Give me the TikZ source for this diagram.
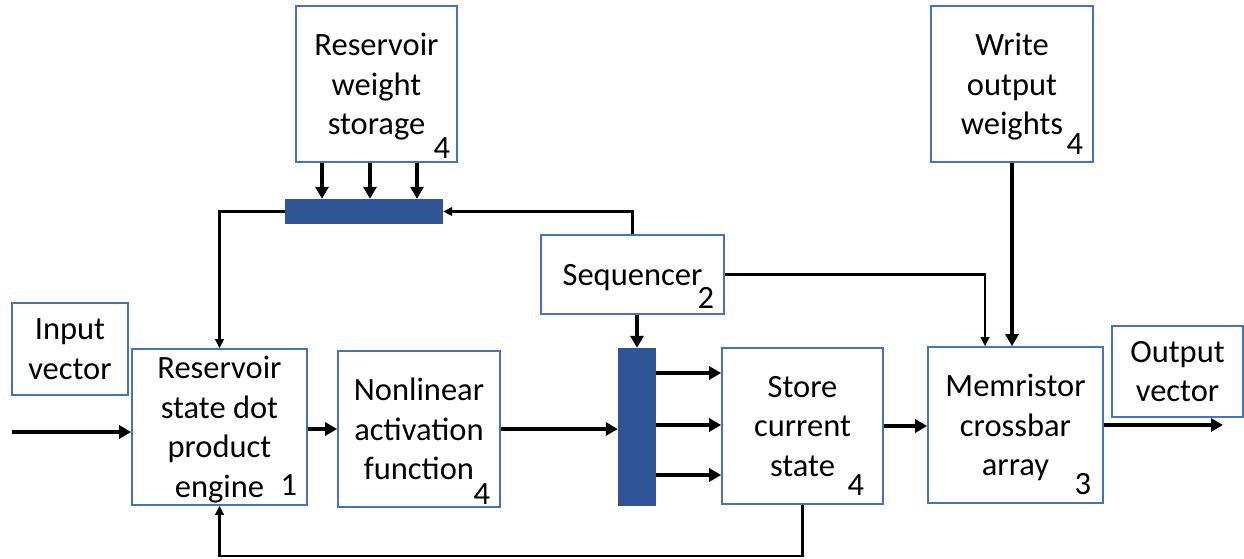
\documentclass[tikz,border=0pt]{standalone}
\usepackage{fontspec}
\setmainfont{Carlito}
\usetikzlibrary{arrows.meta}
\definecolor{boxblue}{HTML}{4472C4}
\definecolor{barblue}{HTML}{2F5597}
\begin{document}
\begin{tikzpicture}[x=1pt,y=-1pt,
  blk/.style={draw=boxblue, line width=1.7pt, fill=white, align=center, inner sep=0pt,
    font=\fontsize{32.5}{39.5}\selectfont, text depth=-1pt},
  bar/.style={fill=barblue, draw=none, inner sep=0pt},
  num/.style={font=\fontsize{32.5}{39.5}\selectfont, inner sep=0pt},
  thickarrow/.style={-{Triangle[length=12pt,width=13pt]}, line width=3.8pt},
  thinarrow/.style={-{Triangle[length=9pt,width=8.5pt]}, line width=2.2pt},
]
\useasboundingbox (0,0) rectangle (1244,558);

% boxes
\node[blk, minimum width=161pt, minimum height=156pt] (rws) at (376.5,84) {Reservoir\\weight\\storage};
\node[blk, minimum width=183pt, minimum height=79pt] (seq) at (632.5,274.5) {Sequencer};
\node[blk, minimum width=161pt, minimum height=156pt] (store) at (802.5,426) {Store\\current\\state};
\node[blk, minimum width=162pt, minimum height=156pt] (write) at (1012,84) {Write\\output\\weights};
\node[blk, minimum width=175pt, minimum height=156pt] (mem) at (1015.5,425) {Memristor\\crossbar\\array};
\node[blk, minimum width=131pt, minimum height=91pt] (out) at (1177.5,371.5) {Output\\vector};
\node[blk, minimum width=116pt, minimum height=92pt] (in) at (70,349) {Input\\vector};
\node[blk, minimum width=175pt, minimum height=156pt] (rs) at (219.5,427) {Reservoir\\state dot\\product\\engine};
\node[blk, minimum width=162pt, minimum height=156pt] (nl) at (419,429) {Nonlinear\\activation\\function};

% bars
\node[bar, minimum width=158pt, minimum height=25pt] (hbar) at (364,211.5) {};
\node[bar, minimum width=38pt, minimum height=158pt] (vbar) at (637,427) {};

% numbers
\node[num] (n1) at ([shift={(-16,-15)}]rws.south east) {4};
\node[num] (n2) at ([shift={(-19,-17)}]seq.south east) {2};
\node[num] (n3) at ([shift={(-28,-20)}]store.south east) {4};
\node[num] (n4) at ([shift={(-19,-19)}]write.south east) {4};
\node[num] (n5) at ([shift={(-21,-20)}]mem.south east) {3};
\node[num] (n6) at ([shift={(-19,-21)}]rs.south east) {1};
\node[num] (n7) at ([shift={(-19,-14)}]nl.south east) {4};

% helper coordinates
\coordinate (a1) at (322,0);
\coordinate (a2) at (370,0);
\coordinate (a3) at (417,0);
\coordinate (b1) at (0,373);
\coordinate (b2) at (0,425);
\coordinate (b3) at (0,475);
\coordinate (c1) at (985,0);
\coordinate (inp) at (12,432);
\coordinate (outend) at (1223,0);

% connectors
\foreach \a in {a1,a2,a3}
  \draw[thickarrow] (rws.south -| \a) -- (hbar.north -| \a);
\draw[thinarrow] (hbar.west) -| (rs.north);
\draw[thinarrow] (seq.north) |- (hbar.east);
\draw[thickarrow] (seq.south -| vbar.north) -- (vbar.north);
\draw[thickarrow] (inp) -- (rs.west |- inp);
\draw[thickarrow] (nl.west -| rs.east) -- (nl.west);
\draw[thickarrow] (nl.east) -- (vbar.west |- nl.east);
\foreach \b in {b1,b2,b3}
  \draw[thickarrow] (vbar.east |- \b) -- (store.west |- \b);
\draw[thickarrow] (store.east) -- (mem.west |- store.east);
\draw[thinarrow] (seq.east) -| (mem.north -| c1);
\draw[thickarrow] (write.south) -- (mem.north -| write.south);
\draw[thickarrow] (mem.east) -- (mem.east -| outend);
\draw[thinarrow] (store.south) -- ++(0,51) -| (rs.south);
\end{tikzpicture}
\end{document}
